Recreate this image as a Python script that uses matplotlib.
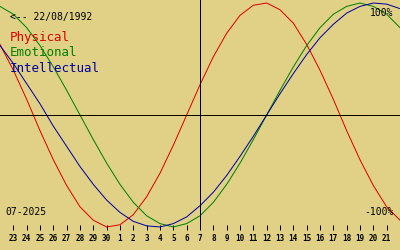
import matplotlib
matplotlib.use("Agg")
import matplotlib.pyplot as plt
import pandas as pd

# dni od 22.06.2025 do 22.07.2025 (krawedzie wykresu)
days = pd.date_range("2025-06-22", "2025-07-22", freq="D")
today = pd.Timestamp("2025-07-07")
birth_label = "<-- 22/08/1992"
month_label = "07-2025"

physical = [0.63, 0.40, 0.14, -0.14, -0.40, -0.63, -0.82, -0.94, -1.00, -0.98,
            -0.89, -0.73, -0.52, -0.27, 0.00, 0.27, 0.52, 0.73, 0.89, 0.98,
            1.00, 0.94, 0.82, 0.63, 0.40, 0.14, -0.14, -0.40, -0.63, -0.82, -0.94]
emotional = [0.97, 0.90, 0.78, 0.62, 0.43, 0.22, 0.00, -0.22, -0.43, -0.62,
             -0.78, -0.90, -0.97, -1.00, -0.97, -0.90, -0.78, -0.62, -0.43, -0.22,
             0.00, 0.22, 0.43, 0.62, 0.78, 0.90, 0.97, 1.00, 0.97, 0.90, 0.78]
intellectual = [0.62, 0.46, 0.28, 0.10, -0.10, -0.28, -0.46, -0.62, -0.76, -0.87,
                -0.95, -0.99, -1.00, -0.97, -0.91, -0.81, -0.69, -0.54, -0.37, -0.19,
                0.00, 0.19, 0.37, 0.54, 0.69, 0.81, 0.91, 0.97, 1.00, 0.99, 0.95]

series = [("Physical", physical, "#e00000"),
          ("Emotional", emotional, "#008000"),
          ("Intellectual", intellectual, "#0000a0")]

BG = "#e0d186"
MONO = "DejaVu Sans Mono"
LW = 0.72   # 1 px przy dpi=100

fig = plt.figure(figsize=(4, 2.5), dpi=100, facecolor=BG)
ax = fig.add_axes([0, 0.08, 1, 0.92], facecolor=BG)

for name, vals, col in series:
    ax.plot(days, vals, color=col, lw=LW)

ax.axhline(0, color="black", lw=LW, antialiased=False)
ax.axvline(today, color="black", lw=LW, antialiased=False)

ax.set_xlim(days[0], days[-1])
ax.set_ylim(-1.027, 1.027)
ax.set_yticks([])
for s in ax.spines.values():
    s.set_visible(False)

ticks = days[1:-1]
ax.set_xticks(ticks)
ax.set_xticklabels([str(d.day) for d in ticks], family=MONO, fontsize=5.5,
                   weight="bold")
ax.tick_params(axis="x", direction="in", length=3.6, width=LW, pad=3,
               color="black")

# legenda i opisy
ax.text(0.025, 0.926, birth_label, transform=ax.transAxes, family=MONO,
        fontsize=7, va="center", ha="left")
for (name, vals, col), y in zip(series, [0.835, 0.770, 0.704]):
    ax.text(0.025, y, name, transform=ax.transAxes, family=MONO,
            fontsize=9, color=col, va="center", ha="left")
ax.text(0.0125, 0.078, month_label, transform=ax.transAxes, family=MONO,
        fontsize=7, va="center", ha="left")
ax.text(0.983, 0.943, "100%", transform=ax.transAxes, family=MONO,
        fontsize=7, va="center", ha="right")
ax.text(0.985, 0.078, "-100%", transform=ax.transAxes, family=MONO,
        fontsize=7, va="center", ha="right")

fig.savefig("out.png", dpi=100, facecolor=BG)
